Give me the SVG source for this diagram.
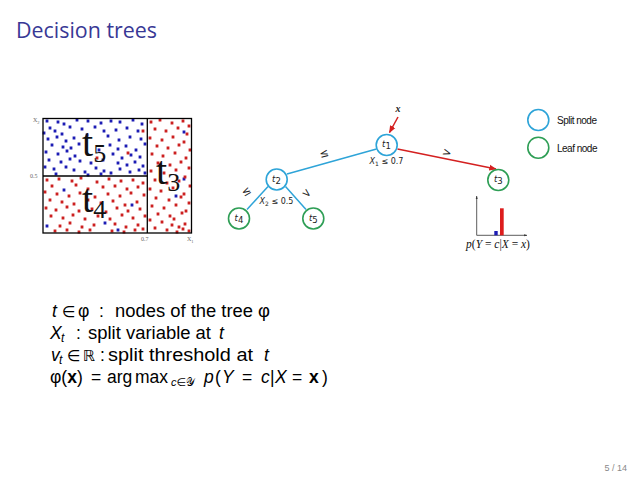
<svg xmlns="http://www.w3.org/2000/svg" width="638" height="479" viewBox="0 0 638 479">
<defs>
<marker id="ar" viewBox="0 0 10 10" refX="9" refY="5" markerWidth="5" markerHeight="5" orient="auto"><path d="M0,1 L10,5 L0,9 z" fill="#d42020"/></marker>
<marker id="ax" viewBox="0 0 10 10" refX="9" refY="5" markerWidth="4" markerHeight="4" orient="auto"><path d="M0,2 L10,5 L0,8 z" fill="#333"/></marker>
<style>
.title{font-family:"Open Sans","Liberation Sans",sans-serif;font-size:21px;fill:#383895}
.body{font-family:"Liberation Sans","DejaVu Sans",sans-serif;font-size:17.5px;fill:#000}
.it{font-style:italic}
.sub{font-size:12px}
.rel{font-size:15.5px}
.ax{font-family:"Liberation Serif",serif;font-size:6px;fill:#666}
.big{font-family:"Liberation Serif",serif;fill:#111}
.split{fill:#fff;stroke:#2ea4d8;stroke-width:1.6}
.leaf{fill:#fff;stroke:#2e9e55;stroke-width:1.6}
.nl{font-family:"DejaVu Sans",sans-serif;font-size:8.5px;fill:#222}
.el{font-family:"DejaVu Sans",sans-serif;font-size:8px;fill:#222}
.sym{font-family:"DejaVu Sans",sans-serif;font-size:11px;fill:#222}
.leg{font-family:"Liberation Sans",sans-serif;font-size:10px;fill:#111;letter-spacing:-0.5px}
.bl{stroke:#2ea4d8;stroke-width:1.5;fill:none}
.rd{stroke:#d42020;stroke-width:1.5;fill:none}
.bdot{stroke:#1c1cb4;stroke-width:2.8;stroke-linecap:square;fill:none}
.rdot{stroke:#cc2020;stroke-width:2.8;stroke-linecap:square;fill:none}
</style>
</defs>
<rect width="638" height="479" fill="#fff"/>
<text class="title" x="16" y="38" textLength="141" lengthAdjust="spacingAndGlyphs">Decision trees</text>

<g id="scatter">
<path class="bdot" d="M47 121h0M58 122h0M64 124h0M77 120h0M88 121h0M101 123h0M111 121h0M120 122h0M133 120h0M142 124h0M50 128h0M55 131h0M70 127h0M82 129h0M95 127h0M116 130h0M127 128h0M138 131h0M62 134h0M44 133h0M48 139h0M57 137h0M66 141h0M74 138h0M108 136h0M119 140h0M130 137h0M141 139h0M52 145h0M63 147h0M71 148h0M79 144h0M110 145h0M118 149h0M126 146h0M136 150h0M145 144h0M46 152h0M58 154h0M67 151h0M75 156h0M113 154h0M122 158h0M131 155h0M140 157h0M49 160h0M61 162h0M70 159h0M80 161h0M118 163h0M127 165h0M135 162h0M143 166h0M45 167h0M54 169h0M66 167h0M74 170h0M85 172h0M96 168h0M104 171h0M111 173h0M120 169h0M130 172h0M139 170h0M56 174h0M88 175h0M101 174h0M145 173h0M91 163h0M103 160h0M99 150h0M104 131h0M87 135h0M64 190h0M132 205h0M47 226h0M118 230h0M105 223h0M184 132h0M160 165h0M176 196h0M184 179h0"/>
<path class="rdot" d="M143 131h0M128 153h0M97 158h0M47 180h0M59 179h0M72 181h0M81 178h0M97 182h0M109 179h0M121 181h0M133 180h0M143 183h0M52 186h0M76 185h0M88 189h0M103 187h0M115 186h0M127 189h0M138 187h0M45 192h0M57 194h0M69 196h0M80 193h0M95 197h0M108 194h0M120 196h0M131 193h0M144 195h0M50 200h0M62 202h0M74 204h0M88 200h0M101 203h0M113 201h0M125 205h0M137 202h0M46 208h0M56 210h0M67 207h0M79 211h0M92 209h0M106 212h0M117 208h0M128 211h0M140 209h0M51 216h0M63 218h0M73 215h0M85 219h0M98 216h0M110 219h0M122 215h0M133 218h0M145 216h0M60 226h0M70 223h0M82 227h0M94 225h0M115 224h0M126 227h0M138 225h0M55 231h0M67 230h0M79 232h0M90 230h0M112 231h0M124 232h0M135 230h0M143 229h0M151 122h0M160 120h0M172 123h0M183 121h0M189 126h0M155 129h0M166 131h0M178 128h0M187 134h0M150 138h0M162 140h0M173 137h0M184 142h0M157 146h0M168 148h0M179 145h0M190 150h0M152 154h0M163 156h0M175 153h0M186 158h0M158 163h0M170 165h0M181 162h0M189 168h0M151 171h0M164 173h0M176 170h0M185 177h0M155 180h0M167 183h0M179 181h0M190 186h0M150 189h0M161 191h0M173 188h0M184 194h0M156 198h0M169 200h0M181 197h0M189 203h0M152 206h0M164 208h0M176 205h0M186 211h0M158 214h0M170 216h0M182 213h0M150 220h0M162 222h0M174 219h0M185 224h0M155 228h0M167 230h0M179 227h0M189 231h0M172 225h0M177 232h0M183 229h0"/>
<rect x="43" y="118.5" width="148.5" height="114.5" fill="none" stroke="#000" stroke-width="1.3"/>
<line x1="147.3" y1="118.5" x2="147.3" y2="233" stroke="#000" stroke-width="1.3"/>
<line x1="43" y1="176" x2="147.3" y2="176" stroke="#000" stroke-width="1.3"/>
<text class="ax" x="33" y="122">X<tspan font-size="4.5" dy="1.5">2</tspan></text>
<text class="ax" x="30" y="178">0.5</text>
<text class="ax" x="141" y="241">0.7</text>
<text class="ax" x="187" y="241">X<tspan font-size="4.5" dy="1.5">1</tspan></text>
<text class="big" x="82" y="156" font-size="40">t<tspan font-size="26" dy="6">5</tspan></text>
<text class="big" x="82" y="212" font-size="40">t<tspan font-size="26" dy="6">4</tspan></text>
<text class="big" x="156" y="184" font-size="40">t<tspan font-size="26" dy="7">3</tspan></text>
</g>

<g id="connectors">
<line class="bl" x1="376.5" y1="149" x2="287" y2="174"/>
<line class="bl" x1="268" y1="186.5" x2="247" y2="209.5"/>
<line class="bl" x1="285.5" y1="186.5" x2="306" y2="209.5"/>
<line class="rd" x1="397.5" y1="149" x2="496" y2="169" marker-end="url(#ar)"/>
<line class="rd" x1="398" y1="117" x2="389.5" y2="132.5" marker-end="url(#ar)"/>
<text class="sym" x="324" y="157" text-anchor="middle" transform="rotate(-15 324 153)">≤</text>
<text class="sym" x="447" y="156" text-anchor="middle" transform="rotate(18 447 152)">&gt;</text>
<text class="sym" x="246" y="195" text-anchor="middle" transform="rotate(-30 246 191)">≤</text>
<text class="sym" x="307" y="197" text-anchor="middle" transform="rotate(40 307 193)">&gt;</text>
<text class="el" x="386.5" y="164" text-anchor="middle"><tspan font-style="italic">X</tspan><tspan font-size="6" dy="1.5">1</tspan><tspan dy="-1.5"> ≤ 0.7</tspan></text>
<text class="el" x="276.5" y="204" text-anchor="middle"><tspan font-style="italic">X</tspan><tspan font-size="6" dy="1.5">2</tspan><tspan dy="-1.5"> ≤ 0.5</tspan></text>
</g>

<g id="x-input"><text x="398" y="112" text-anchor="middle" font-family="Liberation Serif,serif" font-style="italic" font-weight="bold" font-size="10" fill="#222">x</text></g>

<g id="t1"><circle class="split" cx="386.7" cy="145" r="10.5"/><text class="nl" x="386.5" y="147" text-anchor="middle"><tspan font-style="italic">t</tspan><tspan dy="2">1</tspan></text></g>
<g id="t2"><circle class="split" cx="276.7" cy="179.5" r="10.5"/><text class="nl" x="276.5" y="181.5" text-anchor="middle"><tspan font-style="italic">t</tspan><tspan dy="2">2</tspan></text></g>
<g id="t4"><circle class="leaf" cx="239" cy="218.5" r="10.5"/><text class="nl" x="239" y="220.5" text-anchor="middle"><tspan font-style="italic">t</tspan><tspan dy="2">4</tspan></text></g>
<g id="t5"><circle class="leaf" cx="313.3" cy="218.5" r="10.5"/><text class="nl" x="313.3" y="220.5" text-anchor="middle"><tspan font-style="italic">t</tspan><tspan dy="2">5</tspan></text></g>
<g id="t3"><circle class="leaf" cx="498.3" cy="180" r="10.5"/><text class="nl" x="498.3" y="182" text-anchor="middle"><tspan font-style="italic">t</tspan><tspan dy="2">3</tspan></text></g>

<g id="legend">
<circle class="split" cx="538.3" cy="120" r="10.5"/>
<text class="leg" x="557" y="124">Split node</text>
<circle class="leaf" cx="538.3" cy="147.7" r="10.5"/>
<text class="leg" x="557" y="152">Leaf node</text>
</g>

<g id="histogram">
<line x1="476.7" y1="235.3" x2="476.7" y2="196" stroke="#333" stroke-width="0.8" marker-end="url(#ax)"/>
<line x1="476.7" y1="235.3" x2="527" y2="235.3" stroke="#333" stroke-width="0.8" marker-end="url(#ax)"/>
<rect x="494.3" y="231" width="3.4" height="4.3" fill="#1c1cb4"/>
<rect x="500" y="208.3" width="3.7" height="27" fill="#dd1c1c"/>
<text x="498" y="248" text-anchor="middle" font-family="Liberation Serif,serif" font-size="11.5" fill="#111"><tspan font-style="italic">p</tspan>(<tspan font-style="italic">Y</tspan> = <tspan font-style="italic">c</tspan>|<tspan font-style="italic">X</tspan> = <tspan font-style="italic">x</tspan>)</text>
</g>

<g id="definitions" class="body">
<text y="317"><tspan class="it" x="52">t</tspan><tspan class="rel" x="62">∈</tspan><tspan x="78">φ</tspan><tspan x="99">:</tspan></text>
<text x="115" y="317" textLength="155" lengthAdjust="spacingAndGlyphs">nodes of the tree φ</text>
<text y="339"><tspan class="it" x="50">X</tspan><tspan class="it sub" x="61" dy="3">t</tspan><tspan x="76" dy="-3">:</tspan></text>
<text x="88" y="339" textLength="123" lengthAdjust="spacingAndGlyphs">split variable at</text>
<text class="it" x="219" y="339">t</text>
<text y="361"><tspan class="it" x="51">v</tspan><tspan class="it sub" x="59" dy="3">t</tspan><tspan class="rel" x="67" dy="-3">∈</tspan><tspan class="rel" x="83">ℝ</tspan><tspan x="100">:</tspan></text>
<text x="108" y="361" textLength="145" lengthAdjust="spacingAndGlyphs">split threshold at</text>
<text class="it" x="264" y="361">t</text>
<text y="383"><tspan x="50">φ(</tspan><tspan font-weight="bold">x</tspan><tspan>)</tspan><tspan x="91">=</tspan><tspan x="107">arg</tspan><tspan x="135">max</tspan></text>
<text y="386" font-size="11"><tspan class="it" x="171">c</tspan><tspan>∈𝒴</tspan></text>
<text y="383"><tspan class="it" x="204">p</tspan><tspan x="215">(</tspan><tspan class="it" x="222">Y</tspan><tspan x="242">=</tspan><tspan class="it" x="261">c</tspan><tspan x="270">|</tspan><tspan class="it" x="275">X</tspan><tspan x="292">=</tspan><tspan font-weight="bold" x="309">x</tspan><tspan x="322">)</tspan></text>
</g>

<text x="627" y="471" text-anchor="end" font-family="Liberation Sans,sans-serif" font-size="9" fill="#888">5 / 14</text>
</svg>
